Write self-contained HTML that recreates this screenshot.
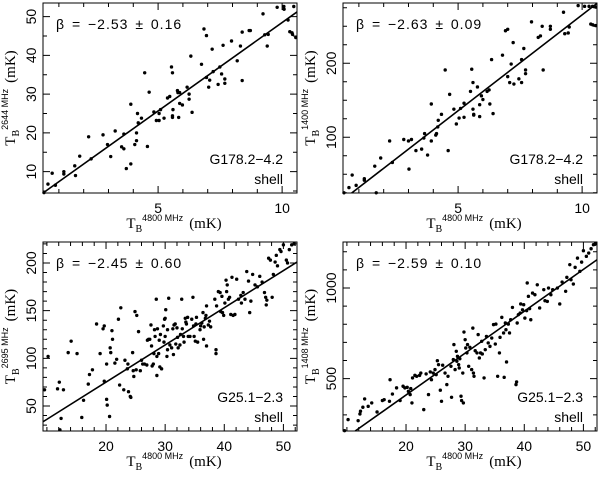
<!DOCTYPE html>
<html><head><meta charset="utf-8"><style>
html,body{margin:0;padding:0;background:#fff}
svg{display:block}
text{font-family:"Liberation Sans",sans-serif;fill:#000}
.ser{font-family:"Liberation Serif",serif}
</style></head><body>
<svg id="c" width="600" height="478" viewBox="0 0 600 478" xmlns="http://www.w3.org/2000/svg"></svg>
<script>
// ---- data ----
const tlPoints=[[0.40,4.6],[0.56,6.8],[0.73,9.6],[0.86,6.5],[1.20,10],[1.20,9.4],[1.64,11.5],[1.67,9],[1.84,14],[2.2,19],[2.3,13.3],[2.78,19.5],[2.96,17],[3.09,13.9],[3.27,20.5],[3.53,16.4],[3.62,15.9],[3.62,19.7],[3.72,10.8],[3.9,27.4],[3.9,12],[4.06,17],[4.13,18],[4.13,20],[4.17,25],[4.2,22.6],[4.33,23.8],[4.46,35.5],[4.57,16.5],[4.64,30.5],[4.83,25.4],[4.93,23.2],[5.04,23.2],[5.04,25],[5.1,26],[5.24,23.8],[5.38,29],[5.47,29.4],[5.54,37],[5.58,35.5],[5.6,26],[5.58,24.4],[5.58,24],[5.78,30.9],[5.83,24],[5.87,27.6],[5.98,27.2],[5.8,30.4],[5.87,30.4],[6.17,31.8],[6.25,30],[6.25,28.7],[6.32,39.8],[6.37,25.3],[6.75,37.7],[6.85,46.8],[6.95,45.1],[6.95,34.3],[7.04,31.8],[7.08,33.6],[7.18,41.6],[7.22,35.8],[7.42,32.5],[7.49,37],[7.56,35.2],[7.62,42.6],[7.69,33.9],[7.69,32.8],[7.96,43.7],[8.19,38.6],[8.32,42.4],[8.39,46],[8.39,33.5],[8.67,46.4],[8.72,46.4],[9.23,50.7],[9.3,45.3],[9.4,42.4],[9.44,45.4],[9.8,52.4],[10.07,52.6],[10.08,51.9],[10.24,49.1],[10.31,46.1],[10.4,45.8],[10.42,45.4],[10.47,52.6],[10.55,44.6]];
const trPoints=[[0.40,25],[0.6,32],[0.73,49],[0.89,35],[1.22,44],[1.22,42],[1.64,61],[1.7,25],[1.88,72],[2.24,95],[2.35,66],[2.81,97],[3.0,95],[3.02,57],[3.12,97],[3.3,82],[3.53,84],[3.62,99],[3.65,105],[3.77,76],[3.92,145],[3.92,95],[4.1,103],[4.13,105],[4.18,114],[4.2,123],[4.33,131],[4.48,191],[4.6,82],[4.66,158],[4.83,138],[4.93,118],[5.04,126],[5.1,139],[5.24,127],[5.24,146],[5.5,162],[5.55,192],[5.6,174],[5.6,138],[5.63,130],[5.63,131],[5.78,168],[5.87,128],[5.87,144],[5.94,156],[6.0,151],[6.17,162],[6.25,164],[6.28,145],[6.35,205],[6.41,132],[6.79,211],[6.91,244],[7.0,246],[7.0,182],[7.08,174],[7.14,199],[7.22,228],[7.25,172],[7.45,179],[7.56,205],[7.56,174],[7.65,220],[7.72,191],[7.72,186],[7.96,256],[8.23,235],[8.32,237],[8.39,250],[8.43,191],[8.72,246],[8.72,250],[9.25,269],[9.3,240],[9.44,241],[9.48,249],[9.84,278],[10.1,277],[10.28,277],[10.35,253],[10.43,252],[10.55,251],[10.42,277],[10.55,276]];
const blPoints=[[9.6,67],[10.2,102],[11.8,68],[12.1,75],[12.4,37],[12.2,25],[12.8,67],[13.6,106],[14.1,118],[15.1,105],[15.9,38],[16.2,56],[17.0,73],[17.2,83],[17.7,88],[18.4,136],[19.0,105],[19.5,131],[19.7,134],[19.7,76],[20.1,94],[20.1,57],[20.2,51],[20.6,39],[20.7,111],[20.8,106],[21.0,129],[21.1,120],[21.5,95],[21.8,99],[22.1,141],[22.3,72],[22.5,153],[23.0,67],[23.2,98],[23.6,89],[23.7,94],[23.8,65],[24.1,60],[24.2,59],[24.5,106],[24.6,87],[24.7,81],[24.9,149],[25.1,88],[25.2,145],[25.5,128],[25.8,87],[26.0,98],[26.2,94],[26.5,94],[26.9,93],[27.0,119],[27.2,120],[27.4,120],[27.6,135],[27.7,113],[27.8,92],[28.0,94],[28.1,105],[28.2,130],[28.3,123],[28.5,162],[28.6,102],[28.6,82],[28.7,131],[28.9,105],[29.0,119],[29.1,91],[29.2,125],[29.4,89],[29.7,134],[29.8,117],[29.9,141],[30.0,123],[30.0,142],[30.1,151],[30.3,102],[30.4,130],[30.4,109],[30.6,163],[30.8,114],[31.1,111],[31.3,131],[31.4,104],[31.5,135],[31.7,136],[31.8,115],[32.0,132],[32.1,122],[32.2,111],[32.5,114],[32.6,125],[32.8,162],[32.9,131],[33.1,123],[33.2,117],[33.4,142],[33.5,138],[33.6,136],[33.8,143],[33.9,123],[34.2,123],[34.5,141],[34.7,164],[34.8,134],[34.9,123],[35.1,118],[35.2,136],[35.3,143],[35.5,117],[35.9,130],[36.0,134],[36.2,137],[36.4,148],[36.5,120],[36.6,133],[36.8,142],[36.9,145],[37.0,113],[37.0,155],[37.3,135],[37.5,139],[37.7,133],[38.6,109],[38.6,105],[38.4,162],[38.7,155],[39.0,170],[39.3,169],[39.4,149],[39.6,165],[39.7,148],[39.9,145],[40.1,158],[40.3,182],[40.4,170],[40.5,177],[40.7,162],[40.9,164],[41.1,146],[41.3,185],[41.5,145],[41.8,146],[42.1,183],[42.4,162],[42.8,166],[42.9,158],[43.2,169],[43.5,162],[43.8,191],[44.1,181],[44.3,148],[44.5,160],[44.8,188],[45.2,177],[45.6,175],[46.0,186],[46.4,180],[46.8,169],[47.0,164],[47.1,156],[47.2,161],[47.5,205],[47.8,203],[48.1,164],[48.3,188],[48.6,201],[48.8,208],[49.0,197],[49.4,214],[49.6,212],[50.0,219],[50.5,203],[50.7,200],[51.0,214],[51.4,219],[51.8,220]];
const brPoints=[[9.6,213],[10.2,274],[11.9,268],[12.2,305],[12.3,320],[12.7,342],[13.0,388],[13.6,347],[14.2,366],[15.1,316],[16.0,379],[16.3,384],[17.2,375],[17.3,494],[17.7,415],[18.4,449],[19.0,379],[19.5,458],[19.8,449],[20.2,452],[20.4,430],[20.7,412],[20.8,445],[21.0,366],[21.1,504],[21.5,518],[21.8,513],[22.3,518],[22.5,531],[23.0,329],[23.4,526],[23.8,412],[24.1,537],[24.3,494],[24.6,531],[24.9,550],[25.1,522],[25.3,599],[25.5,577],[25.8,436],[26.0,375],[26.2,574],[26.6,531],[26.9,467],[27.1,513],[27.6,568],[27.7,397],[28.0,605],[28.1,688],[28.3,550],[28.5,651],[28.6,596],[28.7,623],[28.9,577],[29.0,559],[29.1,610],[29.3,403],[29.4,379],[29.6,531],[29.7,366],[29.8,757],[30.0,715],[30.1,669],[30.3,642],[30.4,688],[30.6,568],[30.8,673],[31.1,550],[31.3,779],[31.4,531],[31.5,513],[31.7,654],[32.0,642],[32.2,743],[32.4,614],[32.6,642],[32.8,706],[32.9,636],[33.2,504],[33.4,660],[33.6,733],[33.9,697],[34.2,678],[34.5,724],[34.8,798],[35.1,691],[35.2,801],[35.5,513],[35.8,642],[35.9,728],[36.2,838],[36.5,752],[36.6,507],[36.8,807],[36.9,770],[37.0,592],[37.3,801],[37.5,752],[37.7,825],[38.0,893],[38.6,467],[38.7,482],[38.8,807],[39.0,853],[39.3,862],[39.4,912],[39.7,880],[39.9,908],[40.1,834],[40.4,875],[40.5,1028],[40.7,954],[40.9,886],[41.1,825],[41.4,972],[41.8,963],[42.2,1018],[42.6,890],[43.3,991],[43.5,930],[43.9,926],[44.1,1000],[44.5,963],[44.8,991],[45.6,1000],[46.0,912],[46.4,1033],[47.0,982],[47.2,1059],[47.7,1129],[47.9,1046],[48.3,1022],[48.6,1114],[49.0,1165],[49.4,1092],[49.7,1143],[50.0,1206],[50.5,1175],[50.9,1193],[51.3,1217],[51.7,1239],[52.0,1243]];
// fit lines: [x0,y0,x1,y1] in data units
const tlFit=[0.36,4.5,10.6,51.2];
const trFit=[0.71,24.7,10.6,281];
const blFit=[9.34,33.5,52.3,201];
const brFit=[11.4,211,52.3,1156];
const topXTicks=[5,10];
const botXTicks=[20,30,40,50];
const tlYTicks=[10,20,30,40,50];
const trYTicks=[100,200];
const blYTicks=[50,100,150,200];
const brYTicks=[500,1000];
const betaLabels=["\u03B2 = \u22122.53 \u00B1 0.16","\u03B2 = \u22122.63 \u00B1 0.09","\u03B2 = \u22122.45 \u00B1 0.60","\u03B2 = \u22122.59 \u00B1 0.10"];
const regionLabels=["G178.2\u22124.2","G178.2\u22124.2","G25.1\u22122.3","G25.1\u22122.3"];
const yFreqs=["2644","1400","2695","1408"];

const NS="http://www.w3.org/2000/svg";
const svg=document.getElementById('c');
function mk(tag,attrs,parent){const e=document.createElementNS(NS,tag);for(const k in attrs)e.setAttribute(k,attrs[k]);(parent||svg).appendChild(e);return e;}

const panels=[
 {ox:0,oy:0,x:[0.36,10.6],y:[4.5,53.5],pts:tlPoints,fit:tlFit,xt:topXTicks,xm:1,yt:tlYTicks,ym:5,name:'top-left'},
 {ox:300,oy:0,x:[0.36,10.6],y:[24.7,281.5],pts:trPoints,fit:trFit,xt:topXTicks,xm:1,yt:trYTicks,ym:25,name:'top-right'},
 {ox:0,oy:238,x:[9.34,52.3],y:[23.8,222],pts:blPoints,fit:blFit,xt:botXTicks,xm:2,yt:blYTicks,ym:10,name:'bottom-left'},
 {ox:300,oy:238,x:[9.34,52.3],y:[211,1254],pts:brPoints,fit:brFit,xt:botXTicks,xm:2,yt:brYTicks,ym:100,name:'bottom-right'}
];
panels.forEach((p,i)=>{
 const L=p.ox+43,R=p.ox+297,T=p.oy+(i<2?3:4),B=p.oy+193;
 const sx=v=>L+(v-p.x[0])/(p.x[1]-p.x[0])*(R-L);
 const sy=v=>B-(v-p.y[0])/(p.y[1]-p.y[0])*(B-T);
 const g=mk('g',{});
 
 
 const fr=mk('rect',{x:L,y:T,width:R-L,height:B-T,fill:'none',stroke:'#000','stroke-width':1},g);
 
 
 let d='';
 const isMaj=(v,arr)=>arr.some(a=>Math.abs(a-v)<1e-6);
 for(let v=Math.ceil(p.x[0]/p.xm)*p.xm;v<=p.x[1];v+=p.xm){const X=sx(v),len=isMaj(v,p.xt)?7:4;d+=`M${X} ${B}v${-len}M${X} ${T}v${len}`;}
 for(let v=Math.ceil(p.y[0]/p.ym)*p.ym;v<=p.y[1];v+=p.ym){const Y=sy(v),len=isMaj(v,p.yt)?7:4;d+=`M${L} ${Y}h${len}M${R} ${Y}h${-len}`;}
 const tk=mk('path',{d:d,stroke:'#000','stroke-width':1,fill:'none'},g);
 
 
 p.xt.forEach(v=>{const t=mk('text',{x:sx(v),y:B+20,'text-anchor':'middle','font-size':14},g);t.textContent=v;
  
  });
 p.yt.forEach(v=>{const t=mk('text',{x:L-7,y:sy(v),'text-anchor':'middle','font-size':14,transform:`rotate(-90 ${L-7} ${sy(v)})`},g);t.textContent=v;
  
  });
 const ln=mk('line',{x1:sx(p.fit[0]),y1:sy(p.fit[1]),x2:sx(p.fit[2]),y2:sy(p.fit[3]),stroke:'#000','stroke-width':1.6},g);
 
 
 p.pts.forEach(q=>{const c=mk('circle',{cx:sx(q[0]),cy:sy(q[1]),r:1.7,fill:'#000'},g);
  
  });
 const bt=mk('text',{x:L+13,y:T+26,'font-size':14,'letter-spacing':'1','word-spacing':'2'},g);bt.textContent=betaLabels[i];
 
 
 const r1=mk('text',{x:R-14,y:B-29,'text-anchor':'end','font-size':14},g);r1.textContent=regionLabels[i];
 
 
 const r2=mk('text',{x:R-14,y:B-9,'text-anchor':'end','font-size':14},g);r2.textContent='shell';
 
 
 const xt=mk('text',{x:p.ox+174,y:p.oy+228,'text-anchor':'middle','font-size':15,class:'ser'},g);
 xt.innerHTML='T<tspan dy="4" font-size="10">B</tspan><tspan dy="-11" font-size="9" font-family="Liberation Sans">4800 MHz</tspan><tspan dy="7" dx="6">(mK)</tspan>';
 
 
 const cy=(T+B)/2, cx=p.ox+15;
 const yt=mk('text',{x:cx,y:cy,'text-anchor':'middle','font-size':15,class:'ser',transform:`rotate(-90 ${cx} ${cy})`},g);
 yt.innerHTML='T<tspan dy="4" font-size="10">B</tspan><tspan dy="-11" font-size="9" font-family="Liberation Sans">'+yFreqs[i]+' MHz</tspan><tspan dy="7" dx="6">(mK)</tspan>';
 
 
});
</script>
</body></html>
